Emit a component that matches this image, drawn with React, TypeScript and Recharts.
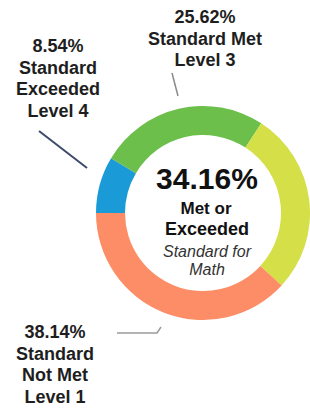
import React from 'react';
import { PieChart, Pie, Cell } from 'recharts';

// Math results by achievement level (percent of students)
const levels = ['Level 4', 'Level 3', 'Level 2', 'Level 1'];
const standards = ['Standard Exceeded', 'Standard Met', 'Standard Nearly Met', 'Standard Not Met'];
const percents = [8.54, 25.62, 27.7, 38.14];
const sliceColors = ['#1a9bd7', '#6cbf4b', '#d5df48', '#fc8d66'];

const metOrExceeded = percents[0] + percents[1];

const chartData = levels.map((level, i) => ({
  name: level,
  standard: standards[i],
  value: percents[i],
}));

// where the outside callouts sit (Level 2 has none in the original)
const labelLayout: Record<string, { x: number; y: number; lines: (d: any) => string[] }> = {
  'Level 4': { x: 58, y: 52, lines: d => [`${d.value.toFixed(2)}%`, 'Standard', 'Exceeded', d.name] },
  'Level 3': { x: 205, y: 23, lines: d => [`${d.value.toFixed(2)}%`, d.standard, d.name] },
  'Level 1': { x: 55, y: 338, lines: d => [`${d.value.toFixed(2)}%`, 'Standard', 'Not Met', d.name] },
};

const FONT = '"Liberation Sans", Arial, sans-serif';

const Callouts = () => (
  <g>
    {chartData.map(d => {
      const cfg = labelLayout[d.name];
      if (!cfg) return null;
      return (
        <text key={d.name} x={cfg.x} y={cfg.y} textAnchor="middle" fontFamily={FONT} fontWeight="bold" fontSize={18} fill="#1e1e1e">
          {cfg.lines(d).map((line, i) => (
            <tspan key={i} x={cfg.x} dy={i === 0 ? 0 : 21.5}>{line}</tspan>
          ))}
        </text>
      );
    })}
    {/* leader lines */}
    <line x1={39} y1={131} x2={87} y2={168} stroke="#3d4a6a" strokeWidth={2} />
    <line x1={172} y1={73} x2={178} y2={96} stroke="#8a8a8a" strokeWidth={1.5} />
    <polyline points="117,333 157,333 161,327" fill="none" stroke="#9a9a9a" strokeWidth={1.5} />
  </g>
);

const CenterText = () => (
  <g fontFamily={FONT} textAnchor="middle">
    <text x={207} y={189} fontSize={30} fontWeight="bold" fill="#111">{metOrExceeded.toFixed(2)}%</text>
    <text x={206} y={214} fontSize={17} fontWeight="bold" fill="#111">Met or</text>
    <text x={207} y={235} fontSize={18} fontWeight="bold" fill="#111">Exceeded</text>
    <text x={207} y={257} fontSize={16} fontStyle="italic" fill="#333">Standard for</text>
    <text x={207} y={275} fontSize={16} fontStyle="italic" fill="#333">Math</text>
  </g>
);

export default function App() {
  return (
    <div style={{ position: 'absolute', left: 0, top: 0, width: 310, height: 409, background: '#fff' }}>
      <PieChart width={310} height={409} margin={{ top: 0, right: 0, bottom: 0, left: 0 }}>
        <Pie
          data={chartData}
          dataKey="value"
          nameKey="name"
          cx={203}
          cy={213}
          innerRadius={78}
          outerRadius={107}
          startAngle={180}
          endAngle={-180}
          stroke="none"
          isAnimationActive={false}
        >
          {chartData.map((d, i) => (
            <Cell key={d.name} fill={sliceColors[i]} />
          ))}
        </Pie>
        <CenterText />
        <Callouts />
      </PieChart>
    </div>
  );
}
